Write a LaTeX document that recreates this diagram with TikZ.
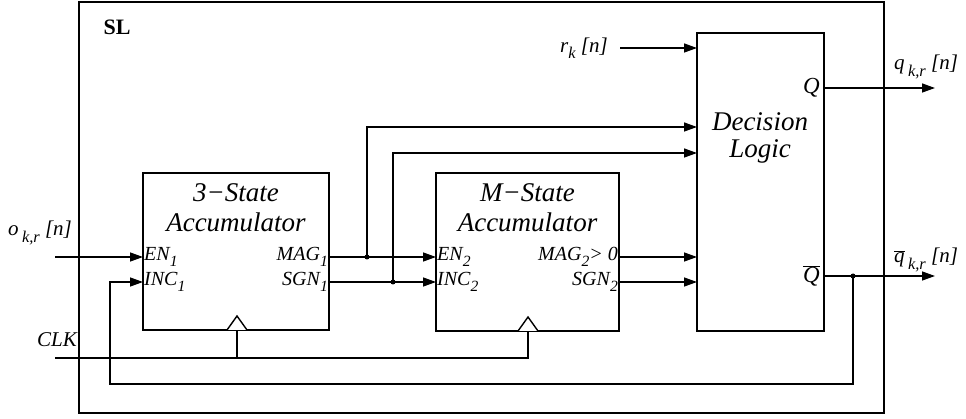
\documentclass[tikz,border=0pt]{standalone}
\usepackage{fontspec}
\setmainfont{Liberation Serif}
\usetikzlibrary{arrows.meta}
\newcommand\lsub[1]{\raisebox{-0.3em}{\scalebox{0.78}{#1}}}
\begin{document}
\begin{tikzpicture}[x=1pt,y=-1pt,
  wire/.style={line width=1.4pt},
  arr/.style={wire,-{Triangle[length=13pt,width=9pt]}},
  box/.style={draw,line width=1.6pt,inner sep=0pt},
  port/.style={inner sep=1pt,font=\fontsize{20}{21}\selectfont\itshape},
  title/.style={font=\fontsize{27}{30}\selectfont\itshape,inner sep=0pt,align=center},
  sig/.style={font=\fontsize{21}{22}\selectfont\itshape,inner sep=0pt},
  jdot/.style={circle,fill,inner sep=0pt,minimum size=5pt},
  clktri/.style={draw,line width=1.4pt,fill=white}]
\useasboundingbox (0,0) rectangle (966,419);
% boxes
\node[box,minimum width=805pt,minimum height=411pt] (sl) at (481.5,207.5) {};
\node[box,minimum width=186pt,minimum height=157pt] (acc3) at (236,251.5) {};
\node[box,minimum width=183pt,minimum height=158pt] (accm) at (527.5,252) {};
\node[box,minimum width=127pt,minimum height=298pt] (dec) at (760.5,182) {};
% titles
\node[font=\fontsize{22}{24}\selectfont\bfseries,inner sep=0pt] (sltxt) at (117,27) {SL};
\node[title] (t3) at (236,208) {3−State\\Accumulator};
\node[title] (tm) at (527.5,208) {M−State\\Accumulator};
\node[title,font=\fontsize{27}{27}\selectfont\itshape] (dl) at (760,138) {Decision\\Logic};
% ports
\node[port,anchor=west] (en1) at (143,257) {EN\lsub{1}};
\node[port,anchor=west] (inc1) at (143,282) {INC\lsub{1}};
\node[port,anchor=east] (mag1) at (329,257) {MAG\lsub{1}};
\node[port,anchor=east] (sgn1) at (329,282) {SGN\lsub{1}};
\node[port,anchor=west] (en2) at (436,257) {EN\lsub{2}};
\node[port,anchor=west] (inc2) at (436,282) {INC\lsub{2}};
\node[port,anchor=east] (mag2) at (619,257) {MAG\lsub{2}> 0};
\node[port,anchor=east] (sgn2) at (619,282) {SGN\lsub{2}};
\node[port,anchor=east,font=\fontsize{23}{24}\selectfont\itshape] (q) at (821,88) {Q};
\node[port,anchor=east,font=\fontsize{23}{24}\selectfont\itshape] (qb) at (821,276) {$\overline{\hbox{Q}}$};
% signal labels
\node[sig] (okr) at (40,233) {o\,\lsub{k,r} [n]};
\node[sig] (clkl) at (57,340) {CLK};
\node[sig] (rk) at (584,48) {r\lsub{k} [n]};
\node[sig] (qkr) at (926,67) {q\,\lsub{k,r} [n]};
\node[sig] (qbkr) at (926,260) {$\overline{\hbox{q}}$\,\lsub{k,r} [n]};
% coordinates
\coordinate (oin) at (55,257);
\coordinate (clkin) at (55,358);
\coordinate (rin) at (620,48);
\coordinate (j1) at (367,257);
\coordinate (j2) at (393,282);
\coordinate (din1) at (697,127);
\coordinate (din2) at (697,153);
\coordinate (din0) at (697,48);
\coordinate (din3) at (697,257);
\coordinate (din4) at (697,282);
\coordinate (qout) at (935,88);
\coordinate (qbout) at (935,276);
\coordinate (j3) at (853,276);
\coordinate (fb1) at (853,384);
\coordinate (fb2) at (110,384);
\coordinate (ck1) at (237,330);
\coordinate (ck2) at (528,331);
\coordinate (cj) at (237,358);
% clock triangles
\draw[clktri] (227,330) -- (237,316) -- (247,330);
\draw[clktri] (518,331) -- (528,317) -- (538,331);
% wires
\draw[arr] (oin) -- (en1.west);
\draw[arr] (mag1.east) -- (en2.west);
\draw[arr] (sgn1.east) -- (inc2.west);
\draw[arr] (j1) |- (din1);
\draw[arr] (j2) |- (din2);
\draw[arr] (rin) -- (din0);
\draw[arr] (mag2.east) -- (din3);
\draw[arr] (sgn2.east) -- (din4);
\draw[arr] (dec.east |- q.east) -- (qout);
\draw[arr] (dec.east |- qb.east) -- (qbout);
\draw[arr] (j3) -- (fb1) -- (fb2) |- (inc1.west);
\draw[wire] (clkin) -| (ck2);
\draw[wire] (cj) -- (ck1);
\node[jdot] at (j1) {};
\node[jdot] at (j2) {};
\node[jdot] at (j3) {};
\end{tikzpicture}
\end{document}
